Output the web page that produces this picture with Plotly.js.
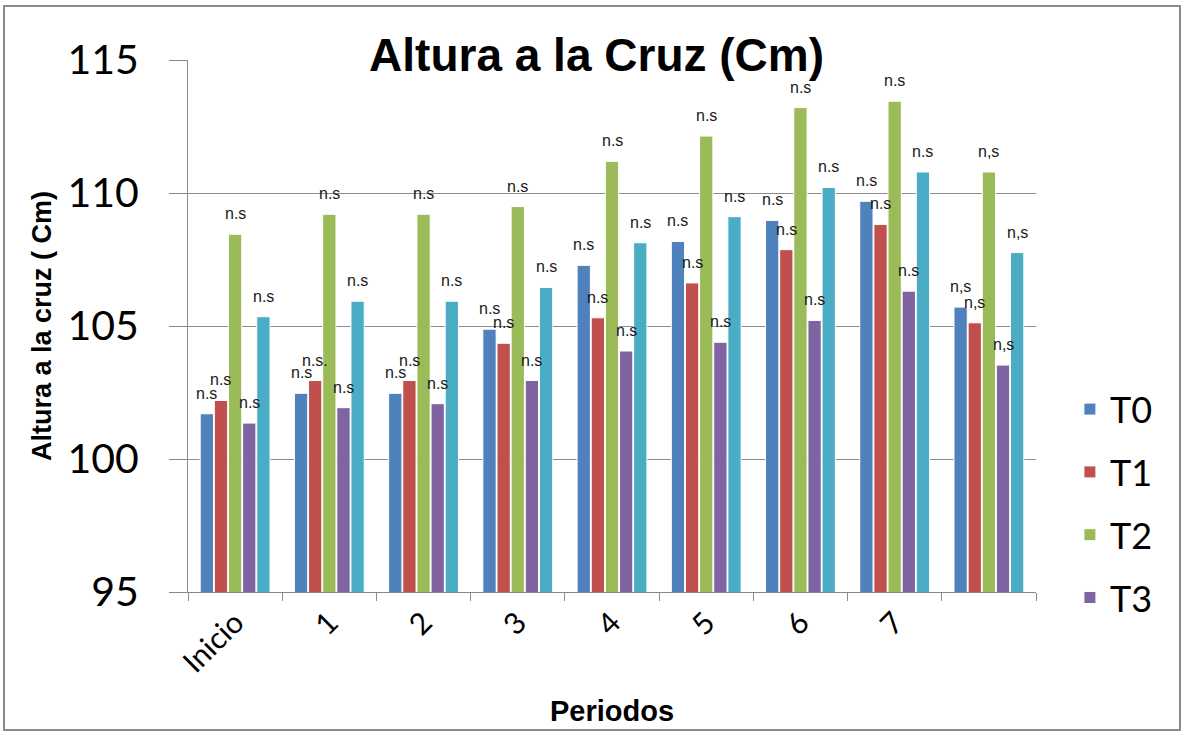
<!DOCTYPE html>
<html>
<head>
<meta charset="utf-8">
<script src="https://cdn.plot.ly/plotly-3.0.1.min.js"></script>
<style>
  html, body { margin: 0; padding: 0; background: #ffffff; }
  #wrap { position: relative; width: 1186px; height: 734px; }
  #chart { width: 1186px; height: 734px; }
  #frame { position: absolute; left: 3px; top: 5px; width: 1174px; height: 722px;
           border: 2px solid #8a8a8a; pointer-events: none; }
</style>
</head>
<body>
<div id="wrap">
  <div id="chart"></div>
  <div id="frame"></div>
</div>
<script>
// ---- data ----
const categories = ["Inicio", "1", "2", "3", "4", "5", "6", "7", "8"];
const tickLabels = ["Inicio", "1", "2", "3", "4", "5", "6", "7", ""];
const seriesNames = ["T0", "T1", "T2", "T3", "T4"];

const T0 = [101.7, 102.47, 102.47, 104.88, 107.28, 108.18, 108.97, 109.69, 105.71];
const T1 = [102.2, 102.95, 102.95, 104.35, 105.31, 106.62, 107.87, 108.82, 105.12];
const T2 = [108.45, 109.2, 109.2, 109.49, 111.19, 112.14, 113.21, 113.45, 110.79];
const T3 = [101.35, 101.93, 102.08, 102.95, 104.06, 104.39, 105.21, 106.31, 103.53];
const T4 = [105.35, 105.93, 105.93, 106.45, 108.13, 109.11, 110.21, 110.79, 107.76];

const labelsT0 = ["n.s", "n.s", "n.s", "n.s", "n.s", "n.s", "n.s", "n.s", "n,s"];
const labelsT1 = ["n.s", "n.s.", "n.s", "n.s", "n.s", "n.s", "n.s", "n.s", "n,s"];
const labelsT2 = ["n.s", "n.s", "n.s", "n.s", "n.s", "n.s", "n.s", "n.s", "n,s"];
const labelsT3 = ["n.s", "n.s", "n.s", "n.s", "n.s", "n.s", "n.s", "n.s", "n,s"];
const labelsT4 = ["n.s", "n.s", "n.s", "n.s", "n.s", "n.s", "n.s", "n.s", "n,s"];

const yTicks = [95, 100, 105, 110, 115];

// ---- styling ----
const colors = ["#4F81BD", "#C0504D", "#9BBB59", "#8064A2", "#4BACC6"];
const inLegend = [true, true, true, true, false];
const allValues = [T0, T1, T2, T3, T4];
const allLabels = [labelsT0, labelsT1, labelsT2, labelsT3, labelsT4];

const BARGAP = 0.25;
const nS = allValues.length;
const slot = (1 - BARGAP) / nS;

const traces = allValues.map((vals, s) => ({
  type: "bar",
  name: seriesNames[s],
  x: categories,
  y: vals,
  marker: { color: colors[s], line: { color: "#ffffff", width: 1 } },
  showlegend: inLegend[s],
  legendgroup: seriesNames[s],
  hoverinfo: "x+y+name"
}));

const annotations = [];
allValues.forEach((vals, s) => {
  vals.forEach((v, g) => {
    annotations.push({
      x: g - (1 - BARGAP) / 2 + slot * (s + 0.5),
      y: v,
      xref: "x", yref: "y",
      text: allLabels[s][g],
      showarrow: false,
      yanchor: "bottom",
      yshift: 10,
      font: { family: "Liberation Sans, Arial, sans-serif", size: 16, color: "#1a1a1a" }
    });
  });
});

const layout = {
  width: 1186,
  height: 734,
  paper_bgcolor: "#ffffff",
  plot_bgcolor: "#ffffff",
  margin: { l: 188, r: 150, t: 60, b: 142 },
  barmode: "group",
  bargap: BARGAP,
  bargroupgap: 0.06,
  title: {
    text: "<b>Altura a la Cruz (Cm)</b>",
    x: 0.503, xanchor: "center",
    y: 0.925, yanchor: "middle",
    font: { family: "Liberation Sans, Arial, sans-serif", size: 46, color: "#000000" }
  },
  xaxis: {
    type: "category",
    tickvals: categories,
    ticktext: tickLabels,
    tickangle: -45,
    tickson: "boundaries",
    ticks: "outside",
    ticklen: 8,
    tickcolor: "#8a8a8a",
    showline: true,
    linecolor: "#8a8a8a",
    linewidth: 1,
    showgrid: false,
    zeroline: false,
    tickfont: { family: "Lato, sans-serif", size: 30, color: "#000000" },
    title: {
      text: "<b>Periodos</b>",
      standoff: 22,
      font: { family: "Liberation Sans, Arial, sans-serif", size: 29, color: "#000000" }
    },
    automargin: false
  },
  yaxis: {
    range: [95, 115],
    tickvals: yTicks,
    ticks: "outside",
    ticklen: 18,
    tickcolor: "#8a8a8a",
    ticklabelstandoff: 22,
    showline: true,
    linecolor: "#8a8a8a",
    linewidth: 1,
    showgrid: true,
    gridcolor: "#8c8c8c",
    gridwidth: 1,
    zeroline: false,
    tickfont: { family: "Lato, sans-serif", size: 41, color: "#000000" },
    title: {
      text: "<b>Altura a la cruz ( Cm)</b>",
      standoff: 8,
      font: { family: "Liberation Sans, Arial, sans-serif", size: 27, color: "#000000" }
    },
    automargin: false
  },
  legend: {
    x: 1.04, xanchor: "left",
    y: 0.40, yanchor: "top",
    font: { family: "Lato, sans-serif", size: 36, color: "#000000" },
    tracegroupgap: 13,
    bgcolor: "rgba(0,0,0,0)"
  },
  annotations: annotations
};

Plotly.newPlot("chart", traces, layout, { displayModeBar: false, staticPlot: true });
</script>
</body>
</html>
